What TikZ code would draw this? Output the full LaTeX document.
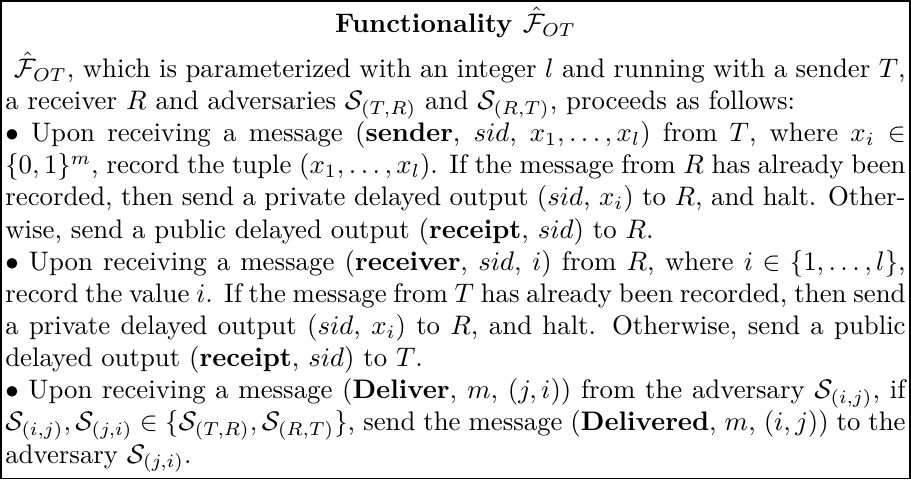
\documentclass[tikz,border=0pt]{standalone}
\usepackage{amsmath,amssymb}
\usetikzlibrary{positioning,fit}

\begin{document}
\begin{tikzpicture}[
        head/.style={font=\bfseries,inner sep=0pt},
        body/.style={text width=336pt,align=justify,inner sep=0pt,
            execute at begin node=\setlength{\parindent}{0pt}},
        frame/.style={draw,semithick,inner xsep=1.5pt,inner ysep=2pt},
    ]

    \node[head] (title) {Functionality $\hat{\mathcal{F}}_{OT}$};

    \node[body,below=5pt of title] (rules) {
        \ $\hat{\mathcal{F}}_{OT}$, which is parameterized with an integer $l$ and running with a sender $T$,\linebreak
        a receiver $R$ and adversaries $\mathcal{S}_{(T,R)}$ and $\mathcal{S}_{(R,T)}$, proceeds as follows:\par
        $\bullet$ Upon receiving a message (\textbf{sender}, $sid$, $x_1,\ldots,x_l$) from $T$, where $x_i\in$\linebreak
        $\{0,1\}^m$, record the tuple $(x_1,\ldots,x_l)$. If the message from $R$ has already been\linebreak
        recorded, then send a private delayed output ($sid$, $x_i$) to $R$, and halt. Other-\linebreak
        wise, send a public delayed output (\textbf{receipt}, $sid$) to $R$.\par
        $\bullet$ Upon receiving a message (\textbf{receiver}, $sid$, $i$) from $R$, where $i\in\{1,\ldots,l\}$,\linebreak
        record the value $i$. If the message from $T$ has already been recorded, then send\linebreak
        a private delayed output ($sid$, $x_i$) to $R$, and halt. Otherwise, send a public\linebreak
        delayed output (\textbf{receipt}, $sid$) to $T$.\par
        $\bullet$ Upon receiving a message (\textbf{Deliver}, $m$, $(j,i)$) from the adversary $\mathcal{S}_{(i,j)}$, if\linebreak
        $\mathcal{S}_{(i,j)},\mathcal{S}_{(j,i)}\in\{\mathcal{S}_{(T,R)},\mathcal{S}_{(R,T)}\}$, send the message (\textbf{Delivered}, $m$, $(i,j)$) to the\linebreak
        adversary $\mathcal{S}_{(j,i)}$.
    };

    \node[frame,fit=(title)(rules)] (box) {};
\end{tikzpicture}
\end{document}
